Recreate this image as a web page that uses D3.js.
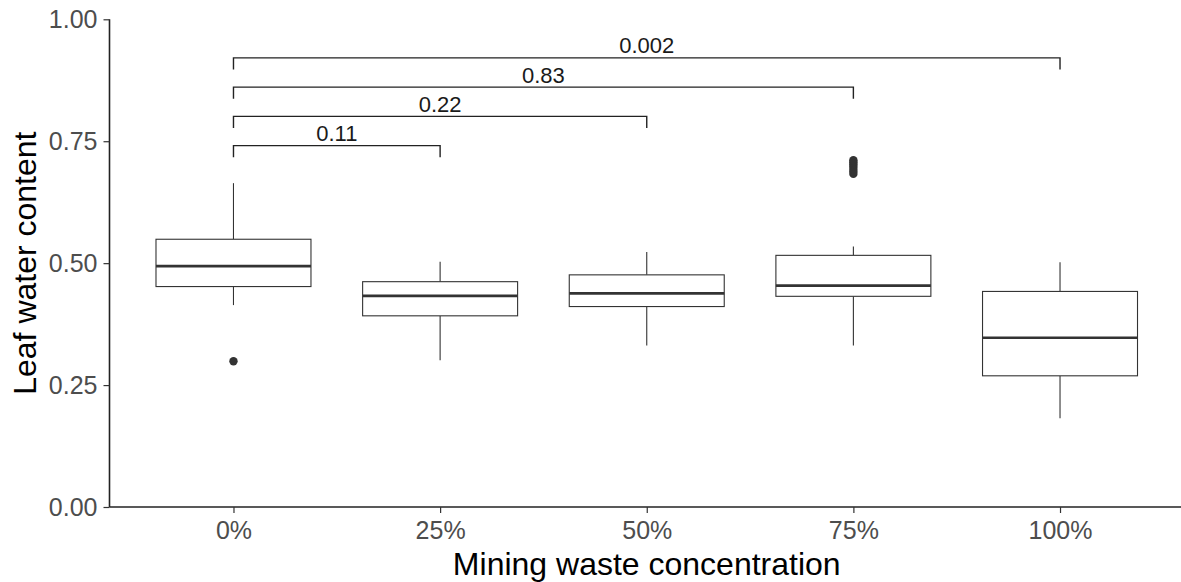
<!DOCTYPE html>
<html>
<head>
<meta charset="utf-8">
<script src="https://cdn.jsdelivr.net/npm/d3@7/dist/d3.min.js"></script>
<style>
  html, body { margin: 0; padding: 0; background: #fff; }
  svg { display: block; font-family: "Liberation Sans", Arial, sans-serif; }
</style>
</head>
<body>
<svg id="chart" width="1181" height="582"></svg>
<script>
// ---- data ----
const categories = ["0%", "25%", "50%", "75%", "100%"];
const whiskerLow  = [0.414, 0.301, 0.331, 0.331, 0.182];
const q1          = [0.452, 0.392, 0.411, 0.432, 0.269];
const medians     = [0.494, 0.433, 0.438, 0.454, 0.347];
const q3          = [0.549, 0.462, 0.476, 0.516, 0.442];
const whiskerHigh = [0.664, 0.503, 0.523, 0.534, 0.502];
const outliers = [
  ["0%", 0.299],
  ["75%", 0.683], ["75%", 0.688], ["75%", 0.693], ["75%", 0.698],
  ["75%", 0.703], ["75%", 0.707], ["75%", 0.711]
];
const compFrom = ["0%", "0%", "0%", "0%"];
const compTo   = ["25%", "50%", "75%", "100%"];
const compY    = [0.741, 0.801, 0.861, 0.921];
const compP    = ["0.11", "0.22", "0.83", "0.002"];
const yTicks   = [0, 0.25, 0.5, 0.75, 1.0];
const xTitle = "Mining waste concentration";
const yTitle = "Leaf water content";

// ---- layout ----
const svg = d3.select("#chart");
const mLeft = 109.5, mRight = 1184, mTop = 19.3, mBottom = 507;
const x = d3.scalePoint().domain(categories).range([mLeft, mRight]).padding(0.6);
const y = d3.scaleLinear().domain([0, 1]).range([mBottom, mTop]);
const halfW = x.step() * 0.375;
const lineCol = "#333333";

const g = svg.append("g");

// boxes
const boxes = categories.map((c, i) => ({c, lo: whiskerLow[i], q1: q1[i], med: medians[i], q3: q3[i], hi: whiskerHigh[i]}));
const bg = g.selectAll("g.box").data(boxes).join("g").attr("class", "box");
bg.append("line")
  .attr("x1", d => x(d.c)).attr("x2", d => x(d.c))
  .attr("y1", d => y(d.q3)).attr("y2", d => y(d.hi))
  .attr("stroke", lineCol).attr("stroke-width", 1.1);
bg.append("line")
  .attr("x1", d => x(d.c)).attr("x2", d => x(d.c))
  .attr("y1", d => y(d.q1)).attr("y2", d => y(d.lo))
  .attr("stroke", lineCol).attr("stroke-width", 1.1);
bg.append("rect")
  .attr("x", d => x(d.c) - halfW).attr("width", halfW * 2)
  .attr("y", d => y(d.q3)).attr("height", d => y(d.q1) - y(d.q3))
  .attr("fill", "#fff").attr("stroke", lineCol).attr("stroke-width", 1.1);
bg.append("line")
  .attr("x1", d => x(d.c) - halfW).attr("x2", d => x(d.c) + halfW)
  .attr("y1", d => y(d.med)).attr("y2", d => y(d.med))
  .attr("stroke", lineCol).attr("stroke-width", 2.6);

// outliers
g.selectAll("circle.out").data(outliers).join("circle")
  .attr("class", "out")
  .attr("cx", d => x(d[0])).attr("cy", d => y(d[1]))
  .attr("r", 4.2).attr("fill", lineCol);

// comparison brackets
const tip = 0.024;
const comps = compFrom.map((f, i) => ({f, t: compTo[i], yv: compY[i], p: compP[i]}));
const cg = g.selectAll("g.comp").data(comps).join("g").attr("class", "comp");
cg.append("path")
  .attr("d", d => {
    const p = d3.path();
    p.moveTo(x(d.f), y(d.yv - tip));
    p.lineTo(x(d.f), y(d.yv));
    p.lineTo(x(d.t), y(d.yv));
    p.lineTo(x(d.t), y(d.yv - tip));
    return p.toString();
  })
  .attr("fill", "none").attr("stroke", "#222").attr("stroke-width", 1.4);
cg.append("text")
  .attr("x", d => (x(d.f) + x(d.t)) / 2)
  .attr("y", d => y(d.yv) - 4.5)
  .attr("text-anchor", "middle")
  .attr("font-size", 22)
  .attr("fill", "#1a1a1a")
  .text(d => d.p);

// axes
const yAxis = d3.axisLeft(y).tickValues(yTicks).tickFormat(d3.format(".2f")).tickSize(6).tickPadding(6);
const ya = svg.append("g").attr("transform", `translate(${mLeft},0)`).call(yAxis);
const xAxis = d3.axisBottom(x).tickSize(6).tickPadding(8);
const xa = svg.append("g").attr("transform", `translate(0,${mBottom})`).call(xAxis);
[ya, xa].forEach(a => {
  a.select(".domain").attr("stroke", "#222").attr("stroke-width", 1.6);
  a.selectAll(".tick line").attr("stroke", "#333").attr("stroke-width", 1.2);
  a.selectAll(".tick text").attr("fill", "#4d4d4d").attr("font-size", 25)
    .attr("font-family", "Liberation Sans, Arial, sans-serif");
});
ya.select(".domain").attr("d", `M0,${mTop}V${mBottom}`);
xa.select(".domain").attr("d", `M${mLeft},0H${mRight}`);

// titles
svg.append("text")
  .attr("x", (mLeft + mRight) / 2).attr("y", 575)
  .attr("text-anchor", "middle").attr("font-size", 32).attr("fill", "#000")
  .text(xTitle);
svg.append("text")
  .attr("transform", `translate(36,${(mTop + mBottom) / 2}) rotate(-90)`)
  .attr("text-anchor", "middle").attr("font-size", 32).attr("fill", "#000")
  .text(yTitle);
</script>
</body>
</html>
